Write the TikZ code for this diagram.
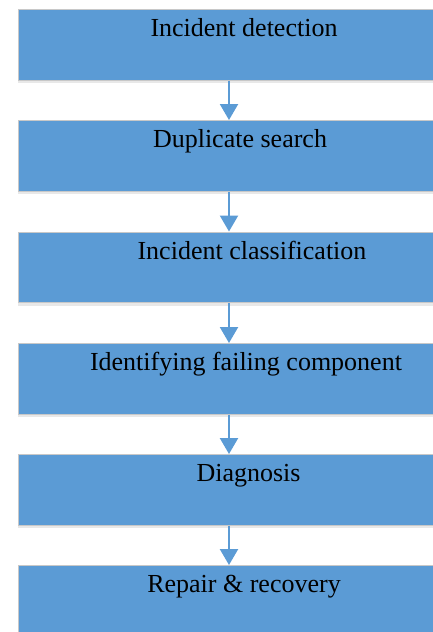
\documentclass[tikz,border=0pt]{standalone}
\usepackage{fontspec}
\setmainfont{Liberation Serif}
\usetikzlibrary{arrows.meta,shadows}
\definecolor{boxblue}{HTML}{5B9BD5}
\definecolor{boxborder}{HTML}{C8C8C8}
\tikzset{
  stepbox/.style={draw=boxborder, line width=1pt, fill=boxblue, anchor=north west,
    minimum width=440pt, minimum height=70.5pt, inner sep=0pt,
    drop shadow={opacity=0.18, shadow xshift=0pt, shadow yshift=-3pt}},
  steplabel/.style={anchor=base, font=\fontsize{26}{30}\selectfont, text=black, inner sep=0pt},
  flowarrow/.style={draw=boxblue, line width=2.2pt, -{Triangle[width=18pt,length=16pt]}}
}
\begin{document}
\begin{tikzpicture}[x=1pt,y=-1pt]
\useasboundingbox (0,0) rectangle (432,632);
\fill[white] (0,0) rectangle (432,632);
\node[stepbox] (b1) at (17.5,9) {};
\node[stepbox] (b2) at (17.5,120) {};
\node[stepbox] (b3) at (17.5,231.5) {};
\node[stepbox] (b4) at (17.5,343) {};
\node[stepbox] (b5) at (17.5,454) {};
\node[stepbox] (b6) at (17.5,565) {};
\node[steplabel] (t1) at (244,36.5) {Incident detection};
\node[steplabel] (t2) at (240,147.5) {Duplicate search};
\node[steplabel] (t3) at (252,259) {Incident classification};
\node[steplabel] (t4) at (246,370.5) {Identifying failing component};
\node[steplabel] (t5) at (248.5,481.5) {Diagnosis};
\node[steplabel] (t6) at (244,592.5) {Repair \& recovery};
\coordinate (ax) at (229,0);
\draw[flowarrow] (b1.south -| ax) -- (b2.north -| ax);
\draw[flowarrow] (b2.south -| ax) -- (b3.north -| ax);
\draw[flowarrow] (b3.south -| ax) -- (b4.north -| ax);
\draw[flowarrow] (b4.south -| ax) -- (b5.north -| ax);
\draw[flowarrow] (b5.south -| ax) -- (b6.north -| ax);
\end{tikzpicture}
\end{document}
